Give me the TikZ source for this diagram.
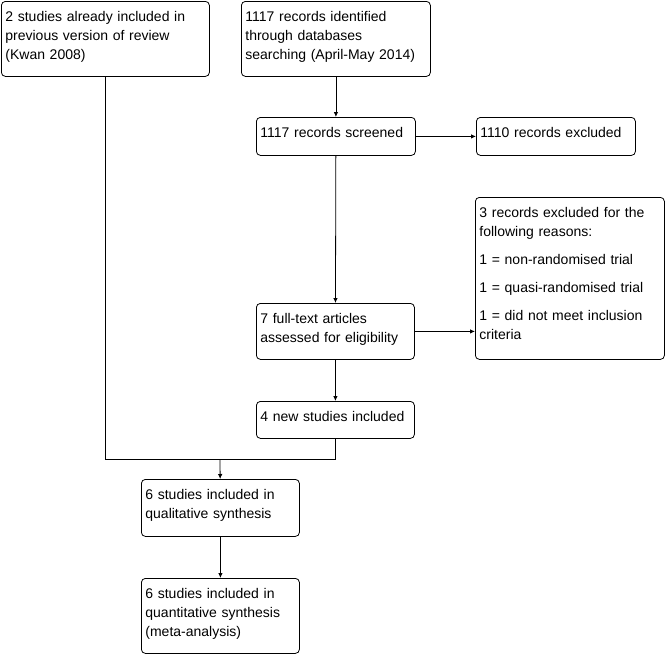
\documentclass[tikz,border=0pt]{standalone}
\usepackage{fontspec}
\setmainfont{Liberation Sans}
\usetikzlibrary{arrows.meta}
\begin{document}
\begin{tikzpicture}[x=1pt,y=-1pt,line width=0.8pt,
    box/.style={draw,rounded corners=4pt,anchor=north west,inner xsep=4pt,inner ysep=0pt,
        align=left,text height=20pt,font=\fontsize{14}{19}\selectfont},
    arr/.style={-{Latex[length=5pt,width=4.5pt]}}]
    \useasboundingbox (0,0) rectangle (666,654);

    %caselle in alto
    \node[box,text width=200pt,text depth=55pt] (prev) at (1,1)
        {2 studies already included in\\previous version of review\\(Kwan 2008)};
    \node[box,text width=181pt,text depth=55pt] (ident) at (241,1)
        {1117 records identified\\through databases\\searching (April-May 2014)};

    %screening
    \node[box,text width=151pt,text depth=18pt] (screen) at (256,117) {1117 records screened};
    \node[box,text width=151pt,text depth=18pt] (excl) at (476,117) {1110 records excluded};

    %eleggibilita
    \node[box,text width=181pt,text depth=142pt] (reasons) at (475,197)
        {3 records excluded for the\\following reasons:\\[9pt]1 = non-randomised trial\\[9pt]1 = quasi-randomised trial\\[9pt]1 = did not meet inclusion\\criteria};
    \node[box,text width=150pt,text depth=36pt] (full) at (256,303)
        {7 full-text articles\\assessed for eligibility};
    \node[box,text width=150pt,text depth=17pt] (new) at (256,401) {4 new studies included};

    %inclusi
    \node[box,text width=150pt,text depth=37pt] (qual) at (141,479)
        {6 studies included in\\qualitative synthesis};
    \node[box,text width=150pt,text depth=55pt] (quant) at (141,578)
        {6 studies included in\\quantitative synthesis\\(meta-analysis)};

    %frecce
    \coordinate (merge) at (220,459);
    \draw[arr] (ident) -- (screen);
    \draw[arr] (screen) -- (excl);
    \draw[arr] (screen) -- (full);
    \draw[arr] (full.east) -- (full.east -| reasons.west);
    \draw[arr] (full) -- (new);
    \draw (prev.south) |- (merge);
    \draw (new.south) |- (merge);
    \draw[arr] (merge) -- (qual);
    \draw[arr] (qual) -- (quant);
\end{tikzpicture}
\end{document}
